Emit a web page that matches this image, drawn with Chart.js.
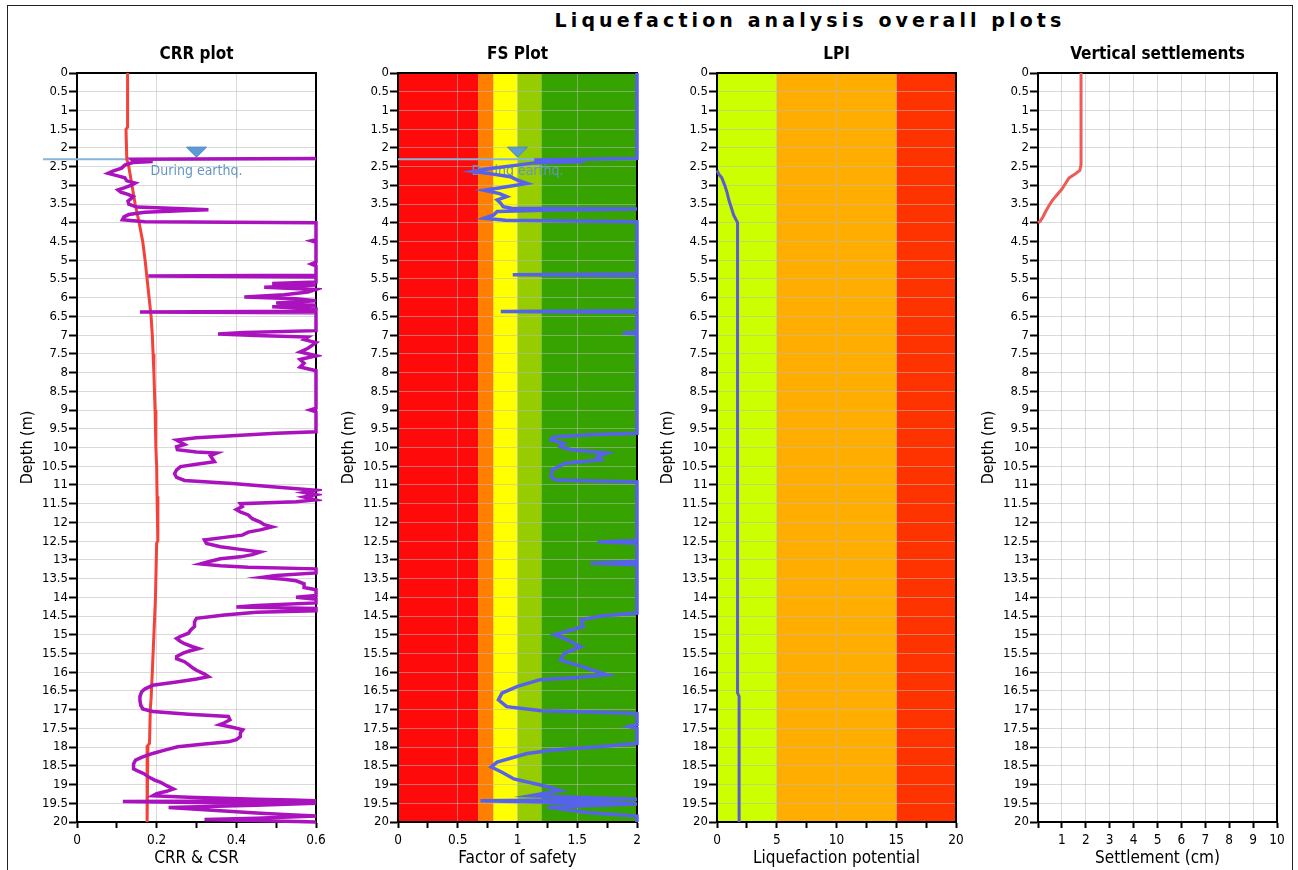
<!DOCTYPE html>
<html>
<head>
<meta charset="utf-8">
<title>Liquefaction analysis overall plots</title>
<script src="https://cdn.jsdelivr.net/npm/chart.js@4.4.1/dist/chart.umd.min.js"></script>
<style>
  html, body { margin: 0; padding: 0; background: #fff; }
  body { width: 1298px; height: 870px; overflow: hidden; position: relative; }
  #frame { position: absolute; left: 7px; top: 5px; width: 1284px; height: 900px;
           border: 1px solid #222; border-bottom: none; }
  #suptitle { position: absolute; top: 9px; left: 530px; width: 560px; text-align: center;
              font: bold 19px "DejaVu Sans", sans-serif; letter-spacing: 4.1px; color: #000; }
  .panel { position: absolute; top: 40px; }
</style>
</head>
<body>
<div id="frame"></div>
<div id="suptitle">Liquefaction analysis overall plots</div>
<canvas class="panel" id="crr" width="325" height="830"></canvas>
<canvas class="panel" id="fs" width="325" height="830"></canvas>
<canvas class="panel" id="lpi" width="325" height="830"></canvas>
<canvas class="panel" id="settle" width="325" height="830"></canvas>
<script>
// ---- depth axis (shared by every panel) ----
const depthTicks = [0, 0.5, 1, 1.5, 2, 2.5, 3, 3.5, 4, 4.5, 5, 5.5, 6, 6.5, 7, 7.5, 8, 8.5, 9, 9.5,
  10, 10.5, 11, 11.5, 12, 12.5, 13, 13.5, 14, 14.5, 15, 15.5, 16, 16.5, 17, 17.5, 18, 18.5, 19, 19.5, 20];
const waterTableDepth = 2.3;

// ---- CRR plot ----
const crrTicks = [0, 0.1, 0.2, 0.3, 0.4, 0.5, 0.6];
const crrTickLabels = [0, 0.2, 0.4, 0.6];
const crrGrid = [0.2, 0.4];

const crrDepths = [2.28, 2.30, 2.33, 2.36, 2.39, 2.46, 2.54, 2.62, 2.68, 2.74, 2.80, 2.88, 2.94, 3.00, 3.06, 3.12,
  3.18, 3.24, 3.30, 3.36, 3.42, 3.50, 3.58, 3.62, 3.65, 3.68, 3.72, 3.78, 3.84, 3.92, 3.97, 4.00,
  4.45, 4.48, 4.52, 5.05, 5.10, 5.15, 5.40, 5.42, 5.45, 5.58, 5.62, 5.66, 5.72, 5.78, 5.85, 5.92,
  5.98, 6.03, 6.08, 6.14, 6.20, 6.24, 6.30, 6.36, 6.38, 6.40, 6.88, 6.93, 6.97, 7.01, 7.05, 7.12,
  7.20, 7.35, 7.45, 7.55, 7.65, 7.75, 7.85, 7.95, 8.95, 9.00, 9.05, 9.58, 9.62, 9.68, 9.74, 9.80,
  9.86, 9.92, 9.98, 10.06, 10.12, 10.15, 10.22, 10.30, 10.38, 10.45, 10.51, 10.60, 10.70, 10.80,
  10.88, 10.96, 11.05, 11.14, 11.20, 11.26, 11.32, 11.40, 11.45, 11.50, 11.58, 11.66, 11.72, 11.80,
  11.90, 11.99, 12.06, 12.12, 12.20, 12.26, 12.34, 12.40, 12.47, 12.56, 12.65, 12.72, 12.79, 12.86,
  12.92, 12.97, 13.05, 13.11, 13.16, 13.20, 13.24, 13.35, 13.42, 13.47, 13.52, 13.56, 13.64, 13.74,
  13.80, 13.95, 14.00, 14.05, 14.15, 14.22, 14.26, 14.30, 14.36, 14.40, 14.47, 14.56, 14.66, 14.78,
  14.88, 14.96, 15.04, 15.10, 15.18, 15.24, 15.32, 15.37, 15.44, 15.50, 15.58, 15.64, 15.72, 15.80,
  15.88, 15.95, 16.05, 16.12, 16.18, 16.26, 16.35, 16.45, 16.53, 16.65, 16.76, 16.88, 16.98, 17.05,
  17.12, 17.18, 17.27, 17.35, 17.40, 17.47, 17.54, 17.62, 17.72, 17.80, 17.86, 17.92, 17.99, 18.08,
  18.17, 18.26, 18.35, 18.45, 18.58, 18.65, 18.71, 18.80, 18.88, 18.94, 19.03, 19.12, 19.18, 19.24,
  19.30, 19.34, 19.39, 19.41, 19.43, 19.45, 19.48, 19.50, 19.55, 19.61, 19.68, 19.75, 19.80, 19.84,
  19.90, 19.93, 19.97, 20.00];
const crrValues = [0.60, 0.137, 0.14, 0.19, 0.14, 0.12, 0.112, 0.09, 0.078, 0.10, 0.12, 0.125, 0.146, 0.135, 0.12, 0.103,
  0.11, 0.128, 0.141, 0.135, 0.128, 0.13, 0.15, 0.25, 0.33, 0.26, 0.17, 0.13, 0.118, 0.114, 0.17, 0.60,
  0.60, 0.588, 0.60, 0.60, 0.588, 0.60, 0.60, 0.179, 0.60, 0.60, 0.49, 0.60, 0.47, 0.60, 0.58, 0.52,
  0.42, 0.55, 0.60, 0.50, 0.60, 0.49, 0.60, 0.60, 0.158, 0.60, 0.60, 0.42, 0.354, 0.45, 0.58, 0.57,
  0.60, 0.58, 0.56, 0.60, 0.56, 0.57, 0.56, 0.60, 0.60, 0.585, 0.60, 0.60, 0.50, 0.40, 0.30, 0.25,
  0.26, 0.27, 0.25, 0.252, 0.30, 0.351, 0.335, 0.34, 0.345, 0.30, 0.26, 0.25, 0.245, 0.25,
  0.27, 0.39, 0.49, 0.60, 0.57, 0.60, 0.57, 0.60, 0.55, 0.41, 0.415, 0.40, 0.41, 0.43,
  0.44, 0.46, 0.47, 0.49, 0.46, 0.43, 0.415, 0.37, 0.32, 0.325, 0.36, 0.41, 0.46, 0.44,
  0.41, 0.36, 0.33, 0.31, 0.36, 0.43, 0.60, 0.60, 0.50, 0.465, 0.52, 0.55, 0.57, 0.57,
  0.60, 0.60, 0.55, 0.60, 0.60, 0.45, 0.40, 0.60, 0.60, 0.45, 0.37, 0.30, 0.295, 0.295,
  0.285, 0.28, 0.26, 0.25, 0.26, 0.27, 0.29, 0.305, 0.28, 0.265, 0.25, 0.25, 0.27, 0.28,
  0.29, 0.30, 0.32, 0.33, 0.30, 0.25, 0.19, 0.17, 0.162, 0.158, 0.158, 0.16, 0.165, 0.19,
  0.28, 0.38, 0.384, 0.37, 0.358, 0.39, 0.416, 0.41, 0.41, 0.40, 0.38, 0.32, 0.253, 0.22,
  0.19, 0.165, 0.147, 0.142, 0.142, 0.155, 0.168, 0.18, 0.195, 0.21, 0.225, 0.242, 0.225, 0.20,
  0.19, 0.28, 0.45, 0.54, 0.60, 0.115, 0.30, 0.60, 0.45, 0.23, 0.33, 0.44, 0.52, 0.60,
  0.45, 0.32, 0.50, 0.60];

const csrDepths = [0, 1.45, 1.5, 2.3, 2.5, 3.0, 3.5, 4.0, 4.5, 5.0, 5.5, 6.0, 6.5, 7.0, 7.5, 8.0, 9.0,
  10.0, 10.5, 11.3, 11.35, 12.5, 12.55, 14.0, 15.0, 16.0, 16.7, 17.0, 17.9, 17.95, 20.0];
const csrValues = [0.127, 0.127, 0.123, 0.125, 0.13, 0.138, 0.146, 0.156, 0.165, 0.171, 0.176, 0.181, 0.186, 0.189, 0.191, 0.193, 0.196,
  0.198, 0.2, 0.201, 0.203, 0.203, 0.2, 0.197, 0.193, 0.189, 0.186, 0.184, 0.182, 0.178, 0.176];

// ---- FS plot ----
const fsTicks = [0, 0.25, 0.5, 0.75, 1, 1.25, 1.5, 1.75, 2];
const fsTickLabels = [0, 0.5, 1, 1.5, 2];
const fsGrid = [0.5, 1, 1.5];
const fsBandEdges = [0, 0.67, 0.8, 1.0, 1.2, 2.0];
const fsBandColors = ['#ff0a0a', '#ff8000', '#ffff00', '#96cc00', '#36a300'];

const fsDepths = [0, 2.28, 2.32, 2.36, 2.40, 2.46, 2.55, 2.63, 2.68, 2.77, 2.86, 2.95, 3.04, 3.13, 3.22, 3.30,
  3.39, 3.48, 3.57, 3.61, 3.63, 3.66, 3.70, 3.79, 3.88, 3.93, 3.97, 5.37, 5.39, 5.41, 6.35, 6.37, 6.39,
  6.92, 6.94, 6.96, 9.62, 9.66, 9.72, 9.80, 9.89, 9.98, 10.06, 10.15, 10.24, 10.33, 10.42, 10.60, 10.78,
  10.87, 10.92, 12.48, 12.52, 12.56, 13.04, 13.09, 13.13, 14.42, 14.50, 14.60, 14.78, 15.00, 15.14, 15.32,
  15.50, 15.68, 15.85, 16.07, 16.14, 16.20, 16.38, 16.56, 16.74, 16.92, 17.03, 17.06, 17.10, 17.40, 17.45,
  17.50, 17.90, 17.99, 18.08, 18.17, 18.40, 18.53, 18.67, 18.85, 19.03, 19.16, 19.30, 19.39, 19.43, 19.47,
  19.52, 19.60, 19.75, 19.84, 19.97, 20.00];
const fsValues = [2.0, 2.0, 1.14, 1.56, 1.14, 1.0, 0.77, 0.63, 0.75, 0.94, 1.0, 1.08, 0.91, 0.72, 0.85, 0.91,
  0.83, 0.86, 0.88, 0.95, 2.0, 1.3, 0.83, 0.80, 0.72, 0.9, 2.0, 2.0, 0.96, 2.0, 2.0, 0.86, 2.0,
  2.0, 1.88, 2.0, 2.0, 1.6, 1.3, 1.28, 1.39, 1.36, 1.45, 1.75, 1.67, 1.70, 1.40, 1.29, 1.28,
  1.32, 2.0, 2.0, 1.67, 2.0, 2.0, 1.61, 2.0, 2.0, 1.7, 1.53, 1.55, 1.31, 1.42, 1.53,
  1.39, 1.36, 1.54, 1.75, 1.5, 1.19, 1.0, 0.87, 0.84, 0.91, 1.2, 1.61, 2.0, 2.0, 1.93,
  2.0, 2.0, 1.68, 1.3, 1.08, 0.83, 0.78, 0.87, 0.97, 1.22, 1.36, 1.11, 2.0, 0.69, 1.3,
  2.0, 1.25, 1.6, 2.0, 2.0, 2.0];

// ---- LPI ----
const lpiTicks = [0, 2.5, 5, 7.5, 10, 12.5, 15, 17.5, 20];
const lpiTickLabels = [0, 5, 10, 15, 20];
const lpiGrid = [5, 10, 15];
const lpiBandEdges = [0, 5, 15, 20];
const lpiBandColors = ['#ccff00', '#ffad00', '#ff3300'];

const lpiDepths = [2.6, 2.7, 2.8, 3.0, 3.2, 3.4, 3.6, 3.8, 3.95, 4.0, 16.55, 16.65, 20.0];
const lpiValues = [0, 0.15, 0.4, 0.65, 0.85, 1.0, 1.2, 1.4, 1.65, 1.72, 1.72, 1.85, 1.85];

// ---- vertical settlements ----
const settleTicks = [0, 1, 2, 3, 4, 5, 6, 7, 8, 9, 10];
const settleTickLabels = [1, 2, 3, 4, 5, 6, 7, 8, 9, 10];
const settleGrid = [1, 2, 3, 4, 5, 6, 7, 8, 9];

const settleDepths = [0, 2.45, 2.6, 2.7, 2.8, 2.95, 3.1, 3.25, 3.4, 3.55, 3.7, 3.85, 3.95, 4.0];
const settleValues = [1.8, 1.8, 1.75, 1.55, 1.3, 1.15, 1.0, 0.8, 0.6, 0.45, 0.32, 0.2, 0.1, 0.0];

// ---- shared styling ----
const FONT = "'DejaVu Sans Condensed', 'Liberation Sans', sans-serif";
const GRID_COLOR = 'rgba(185,185,185,0.55)';
const PANEL_TOP = 40;
const Y_AXIS_WIDTH = 70;
const X_AXIS_HEIGHT = 48;

function pairs(depths, values) {
  return depths.map((d, i) => ({ x: values[i], y: d }));
}

// Draws the panel heading, background bands, plot frame and water-table marker.
function panelDecor(opts) {
  return {
    id: 'panelDecor',
    beforeDraw(chart) {
      const { ctx, chartArea: a, scales } = chart;
      if (opts.bands) {
        const { edges, colors } = opts.bands;
        for (let i = 0; i < colors.length; i++) {
          const x0 = scales.x.getPixelForValue(edges[i]);
          const x1 = scales.x.getPixelForValue(edges[i + 1]);
          ctx.fillStyle = colors[i];
          ctx.fillRect(x0, a.top, x1 - x0, a.bottom - a.top);
        }
      }
      ctx.save();
      ctx.fillStyle = '#000';
      ctx.font = 'bold 17px ' + FONT;
      ctx.textAlign = 'center';
      ctx.textBaseline = 'middle';
      ctx.fillText(opts.heading, (a.left + a.right) / 2, 55 - PANEL_TOP);
      ctx.restore();
    },
    beforeDatasetsDraw(chart) {
      const { ctx, chartArea: a, scales } = chart;
      ctx.save();
      ctx.strokeStyle = '#000';
      ctx.lineWidth = 2;
      ctx.strokeRect(a.left, a.top, a.right - a.left, a.bottom - a.top);
      if (opts.water) {
        const yy = scales.y.getPixelForValue(waterTableDepth);
        const xm = scales.x.getPixelForValue(opts.water.x);
        ctx.strokeStyle = '#86b4dc';
        ctx.lineWidth = 2;
        ctx.beginPath();
        ctx.moveTo(a.left - opts.water.extendLeft, yy);
        ctx.lineTo(a.right, yy);
        ctx.stroke();
        ctx.fillStyle = '#5c9bd6';
        ctx.strokeStyle = '#4a88c2';
        ctx.lineWidth = 1;
        ctx.beginPath();
        ctx.moveTo(xm - 10, yy - 12);
        ctx.lineTo(xm + 10, yy - 12);
        ctx.lineTo(xm, yy - 2);
        ctx.closePath();
        ctx.fill();
        ctx.stroke();
        ctx.fillStyle = '#6396c2';
        ctx.font = '14px ' + FONT;
        ctx.textAlign = 'center';
        ctx.textBaseline = 'middle';
        ctx.fillText('During earthq.', xm, yy + 12);
      }
      ctx.restore();
    }
  };
}

function makePanel(id, plotLeft, opts) {
  const canvas = document.getElementById(id);
  canvas.style.left = (plotLeft - Y_AXIS_WIDTH) + 'px';
  return new Chart(canvas, {
    type: 'line',
    data: { datasets: opts.datasets.map(ds => ({
      data: ds.data, borderColor: ds.color, borderWidth: ds.width,
      pointRadius: 0, tension: 0, fill: false, clip: 6
    })) },
    options: {
      responsive: false,
      animation: false,
      events: [],
      layout: { padding: { top: 33, right: 16, left: 0, bottom: 0 } },
      plugins: { legend: { display: false }, tooltip: { enabled: false }, title: { display: false } },
      scales: {
        x: {
          type: 'linear', position: 'bottom', min: opts.xTicks[0], max: opts.xTicks[opts.xTicks.length - 1],
          afterBuildTicks: s => { s.ticks = opts.xTicks.map(v => ({ value: v })); },
          afterFit: s => { s.height = X_AXIS_HEIGHT; },
          ticks: {
            autoSkip: false, maxRotation: 0, padding: 4, color: '#000',
            font: { family: FONT, size: 13.5 },
            callback: v => opts.xLabels.includes(v) ? String(v) : ''
          },
          grid: {
            color: c => (c.tick && opts.xGrid.includes(c.tick.value)) ? GRID_COLOR : 'rgba(0,0,0,0)',
            lineWidth: 1, drawTicks: true, tickLength: 6, tickColor: '#000', tickWidth: 2
          },
          border: { display: true, color: '#000', width: 2 },
          title: { display: true, text: opts.xTitle, color: '#000', font: { family: FONT, size: 17 },
                   padding: { top: 0, bottom: 1 } }
        },
        y: {
          type: 'linear', reverse: true, min: 0, max: 20,
          afterBuildTicks: s => { s.ticks = depthTicks.map(v => ({ value: v })); },
          afterFit: s => { s.width = Y_AXIS_WIDTH; },
          ticks: { autoSkip: false, padding: 1, color: '#000', font: { family: FONT, size: 13 },
                   callback: v => String(v) },
          grid: { color: GRID_COLOR, lineWidth: 1, drawTicks: true, tickLength: 8, tickColor: '#000', tickWidth: 2 },
          border: { display: true, color: '#000', width: 2 },
          title: { display: true, text: 'Depth (m)', color: '#000', font: { family: FONT, size: 16 },
                   padding: { top: 11, bottom: 0 } }
        }
      }
    },
    plugins: [panelDecor(opts)]
  });
}

makePanel('crr', 77, {
  heading: 'CRR plot', xTitle: 'CRR & CSR',
  xTicks: crrTicks, xLabels: crrTickLabels, xGrid: crrGrid,
  water: { x: 0.3, extendLeft: 34 },
  datasets: [
    { data: pairs(crrDepths, crrValues), color: '#a912bd', width: 3.5 },
    { data: pairs(csrDepths, csrValues), color: '#f2423a', width: 3 }
  ]
});

makePanel('fs', 398, {
  heading: 'FS Plot', xTitle: 'Factor of safety',
  xTicks: fsTicks, xLabels: fsTickLabels, xGrid: fsGrid,
  bands: { edges: fsBandEdges, colors: fsBandColors },
  water: { x: 1.0, extendLeft: 0 },
  datasets: [ { data: pairs(fsDepths, fsValues), color: '#5662ea', width: 3.5 } ]
});

makePanel('lpi', 717, {
  heading: 'LPI', xTitle: 'Liquefaction potential',
  xTicks: lpiTicks, xLabels: lpiTickLabels, xGrid: lpiGrid,
  bands: { edges: lpiBandEdges, colors: lpiBandColors },
  datasets: [ { data: pairs(lpiDepths, lpiValues), color: '#5b5bd2', width: 3 } ]
});

makePanel('settle', 1038, {
  heading: 'Vertical settlements', xTitle: 'Settlement (cm)',
  xTicks: settleTicks, xLabels: settleTickLabels, xGrid: settleGrid,
  datasets: [ { data: pairs(settleDepths, settleValues), color: '#ec5b56', width: 3 } ]
});
</script>
</body>
</html>
